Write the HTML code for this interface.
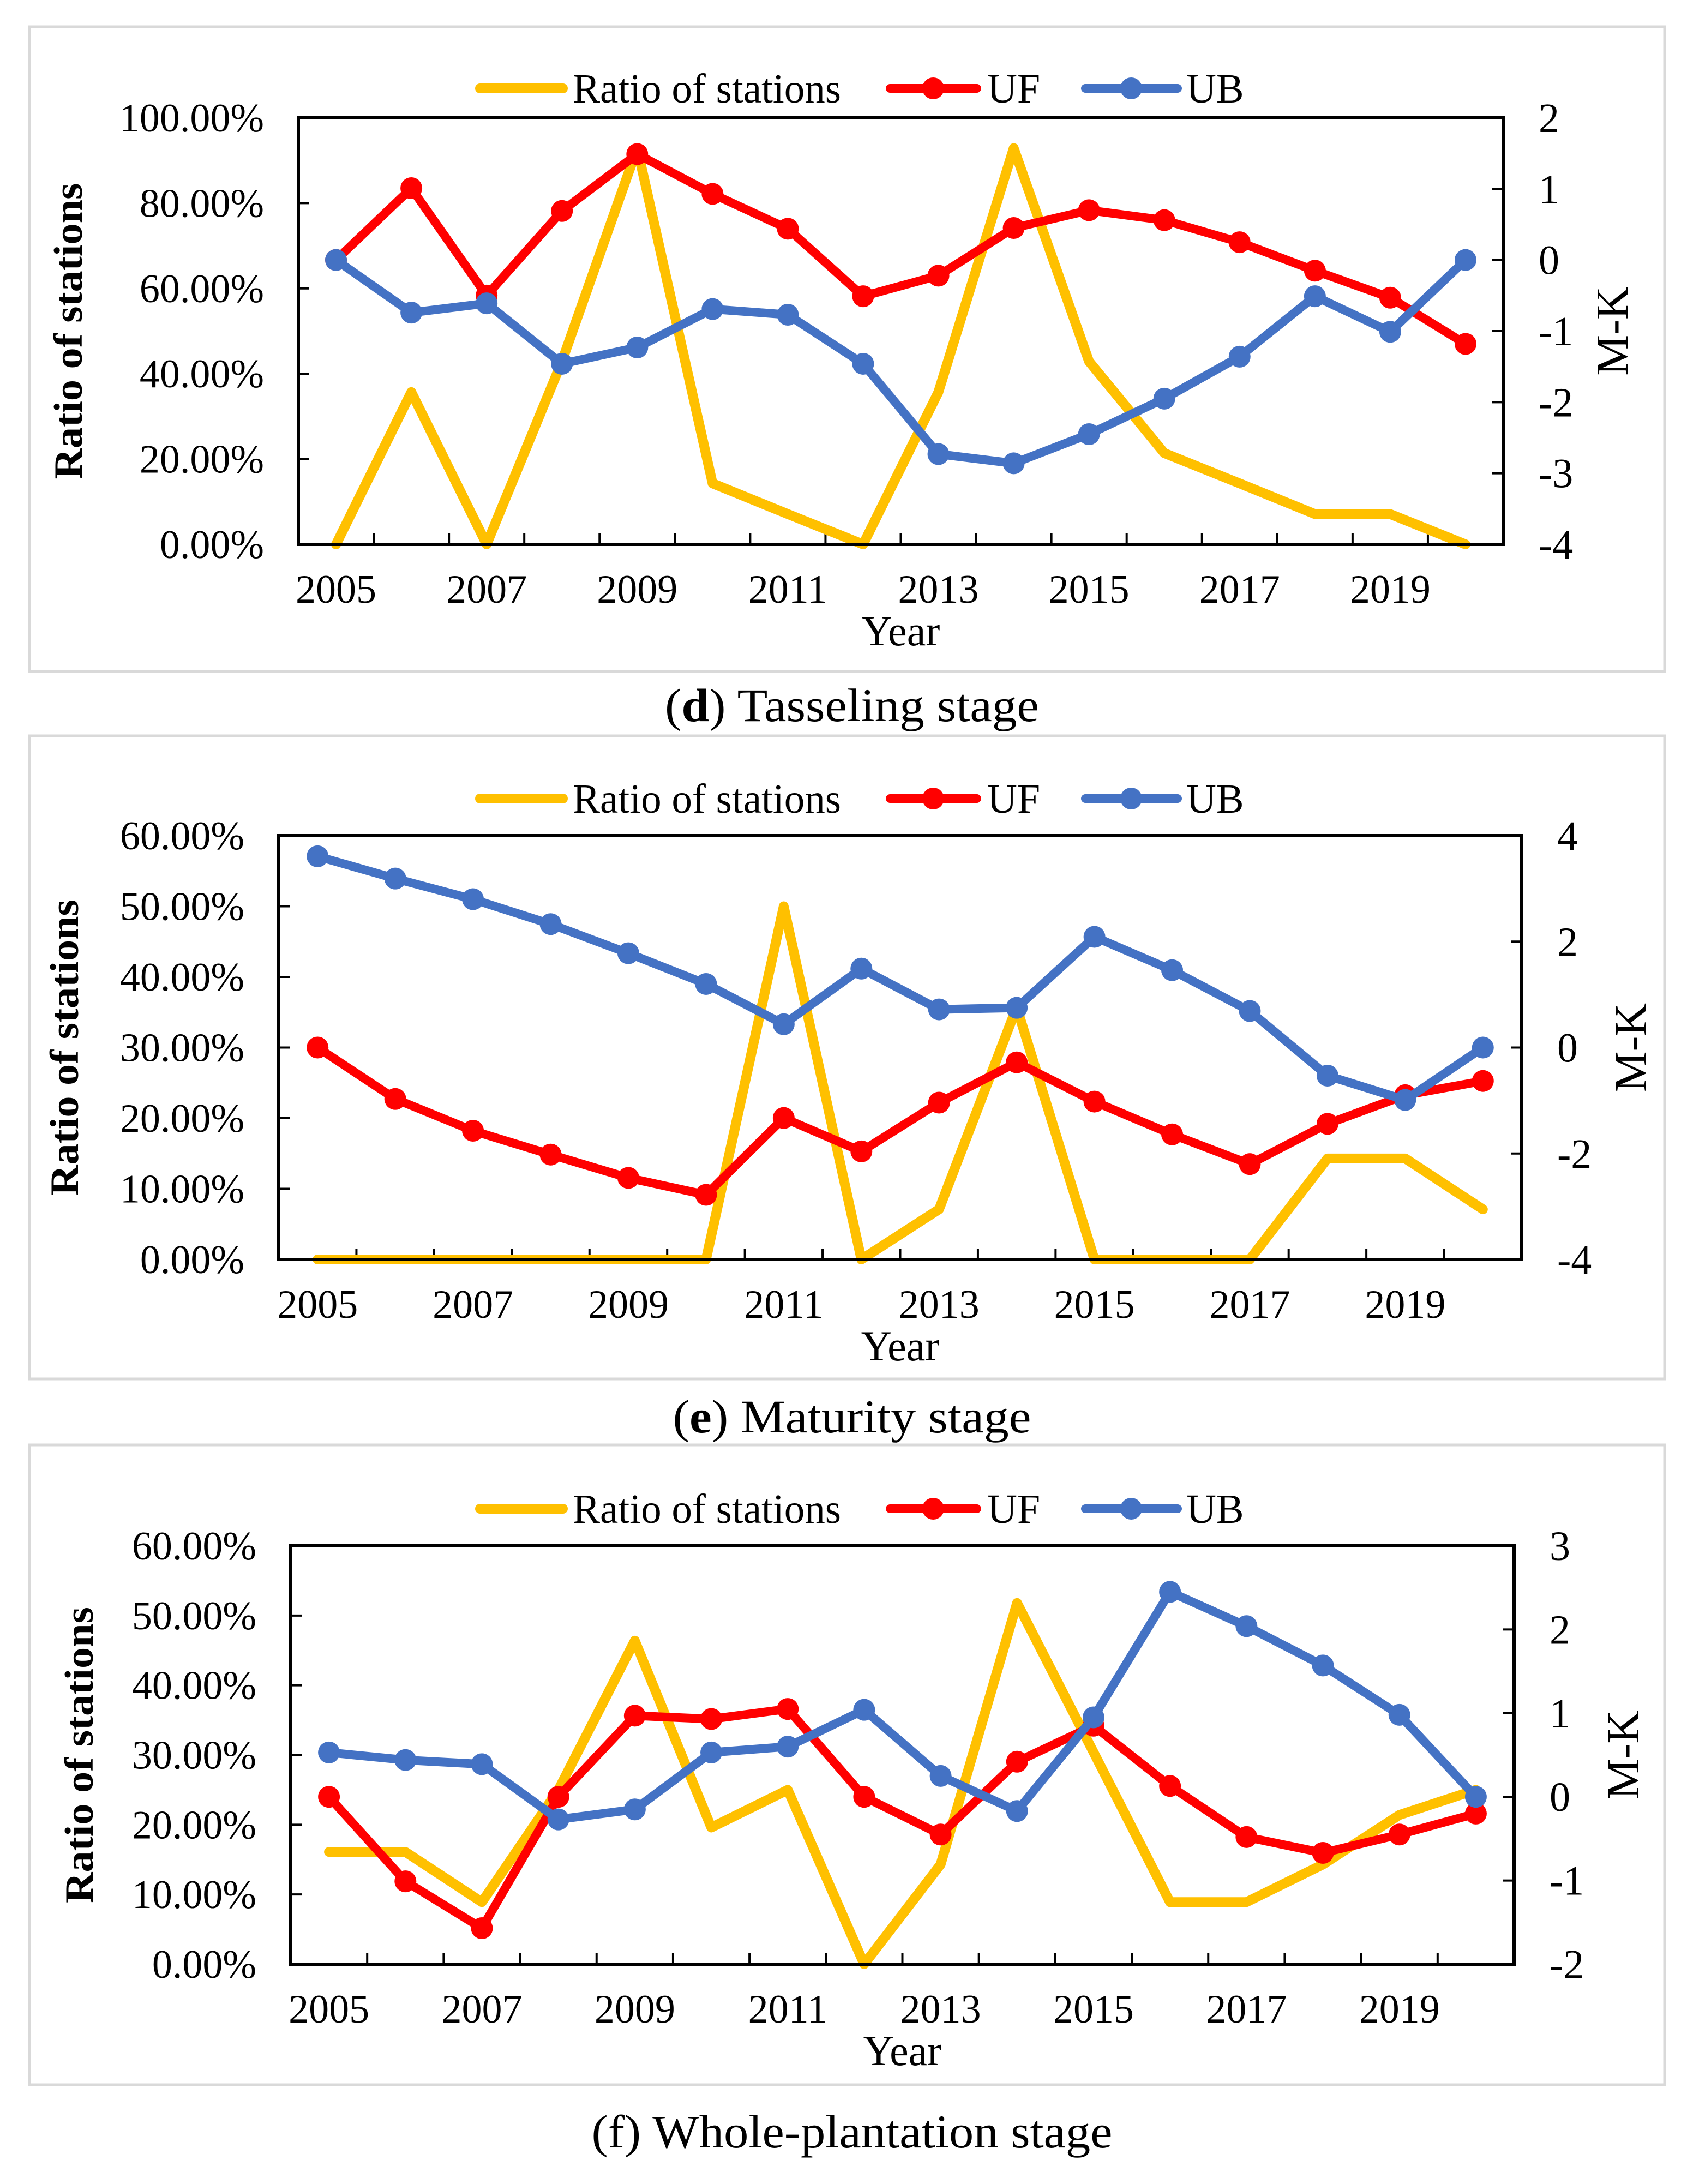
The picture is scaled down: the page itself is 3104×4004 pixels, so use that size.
<!DOCTYPE html>
<html><head><meta charset="utf-8">
<style>
html,body{margin:0;padding:0;background:#fff;}
svg{display:block;}
text{font-family:"Liberation Serif",serif;fill:#000;}
</style></head>
<body>
<svg id="fig" width="3104" height="4004" viewBox="0 0 3104 4004" xmlns="http://www.w3.org/2000/svg"></svg>
<script>
const years = [2005,2006,2007,2008,2009,2010,2011,2012,2013,2014,2015,2016,2017,2018,2019,2020];
const yearLabels = ["2005","2007","2009","2011","2013","2015","2017","2019"];

const ratioD = [0,35.7,0,42.9,92.9,14.3,7.1,0,35.7,92.9,42.9,21.4,14.3,7.1,7.1,0];
const ufD = [0,1.01,-0.5,0.69,1.49,0.93,0.44,-0.51,-0.22,0.45,0.7,0.56,0.25,-0.15,-0.53,-1.18];
const ubD = [0,-0.74,-0.61,-1.46,-1.23,-0.69,-0.77,-1.46,-2.73,-2.86,-2.45,-1.95,-1.36,-0.51,-1.01,0];
const leftTicksD = ["0.00%","20.00%","40.00%","60.00%","80.00%","100.00%"];
const rightTicksD = ["-4","-3","-2","-1","0","1","2"];

const ratioE = [0,0,0,0,0,0,50,0,7.1,35.7,0,0,0,14.3,14.3,7.1];
const ufE = [0,-0.97,-1.57,-2.02,-2.46,-2.78,-1.33,-1.96,-1.04,-0.28,-1.02,-1.64,-2.2,-1.44,-0.9,-0.63];
const ubE = [3.61,3.19,2.8,2.33,1.78,1.2,0.44,1.49,0.72,0.75,2.09,1.46,0.69,-0.53,-0.99,0];
const leftTicksE = ["0.00%","10.00%","20.00%","30.00%","40.00%","50.00%","60.00%"];
const rightTicksE = ["-4","-2","0","2","4"];

const ratioF = [16.1,16.1,8.9,25,46.4,19.6,25,0,14.3,51.8,30.4,8.9,8.9,14.3,21.4,25];
const ufF = [0,-1.01,-1.57,0,0.97,0.93,1.05,0,-0.45,0.42,0.85,0.13,-0.48,-0.67,-0.45,-0.2];
const ubF = [0.53,0.44,0.39,-0.27,-0.15,0.53,0.6,1.04,0.25,-0.17,0.95,2.45,2.04,1.57,0.98,0];
const leftTicksF = ["0.00%","10.00%","20.00%","30.00%","40.00%","50.00%","60.00%"];
const rightTicksF = ["-2","-1","0","1","2","3"];

const NS="http://www.w3.org/2000/svg";
const svg=document.getElementById('fig');
function el(tag,attrs,parent,txt){const e=document.createElementNS(NS,tag);for(const k in attrs)e.setAttribute(k,attrs[k]);if(txt!==undefined)e.textContent=txt;(parent||svg).appendChild(e);return e;}

function panel(cfg){
  const g=el('g',{});
  
  
  const fr=el('rect',{x:cfg.fx0,y:cfg.fy0,width:cfg.fx1-cfg.fx0,height:cfg.fy1-cfg.fy0,fill:'none',stroke:'#d9d9d9','stroke-width':5},g);
  
  
  const L=cfg.x0,R=cfg.x1,T=cfg.y0,B=cfg.y1;
  const n=years.length,cw=(R-L)/n;
  const xs=i=>L+cw*(i+0.5);
  const yl=v=>B-(v-cfg.lmin)/(cfg.lmax-cfg.lmin)*(B-T);
  const yr=v=>B-(v-cfg.rmin)/(cfg.rmax-cfg.rmin)*(B-T);
  // ticks
  for(let i=1;i<n;i++){const t=el('line',{x1:L+cw*i,x2:L+cw*i,y1:B,y2:B-20,stroke:'#000','stroke-width':4},g);
    }
  cfg.lt.forEach((s,i)=>{const v=cfg.lmin+i*(cfg.lmax-cfg.lmin)/(cfg.lt.length-1);const y=yl(v);
    if(i>0&&i<cfg.lt.length-1){const t=el('line',{x1:L,x2:L+20,y1:y,y2:y,stroke:'#000','stroke-width':4},g);}
    const tx=el('text',{x:L-63,y:y+25,'font-size':74,'text-anchor':'end'},g,s);
    });
  cfg.rt.forEach((s,i)=>{const v=cfg.rmin+i*(cfg.rmax-cfg.rmin)/(cfg.rt.length-1);const y=yr(v);
    if(i>0&&i<cfg.rt.length-1){const t=el('line',{x1:R,x2:R-20,y1:y,y2:y,stroke:'#000','stroke-width':4},g);}
    const tx=el('text',{x:R+65,y:y+26,'font-size':76},g,s);
    });
  yearLabels.forEach(s=>{const i=years.indexOf(+s);const tx=el('text',{x:xs(i),y:B+107,'font-size':74,'text-anchor':'middle'},g,s);
    });
  // series
  const ptsR=ratioPts=cfg.ratio.map((v,i)=>xs(i)+','+yl(v)).join(' ');
  const pr=el('polyline',{points:ptsR,fill:'none',stroke:'#ffc000','stroke-width':18,'stroke-linejoin':'round','stroke-linecap':'round'},g);
  
  [[cfg.uf,'#ff0000','uf'],[cfg.ub,'#4472c4','ub']].forEach(([arr,col,nm])=>{
    const pl=el('polyline',{points:arr.map((v,i)=>xs(i)+','+yr(v)).join(' '),fill:'none',stroke:col,'stroke-width':16,'stroke-linejoin':'round'},g);
    
    arr.forEach((v,i)=>{const c=el('circle',{cx:xs(i),cy:yr(v),r:20,fill:col},g);
      });
  });
  const ax=el('rect',{x:L,y:T,width:R-L,height:B-T,fill:'none',stroke:'#000','stroke-width':6},g);
  
  // titles
  const yt=el('text',{x:0,y:0,'font-size':74,'font-weight':'bold','text-anchor':'middle',textLength:543,lengthAdjust:'spacingAndGlyphs',transform:`translate(${cfg.ytx},${(T+B)/2}) rotate(-90)`},g,'Ratio of stations');
  
  const rt=el('text',{x:0,y:0,'font-size':84,'text-anchor':'middle',transform:`translate(${R+228},${(T+B)/2}) rotate(-90)`},g,'M-K');
  
  const xt=el('text',{x:(L+R)/2,y:B+185,'font-size':78,'text-anchor':'middle'},g,'Year');
  
  // legend
  const ly=cfg.ly;
  const lg=el('g',{},g);
  const l1=el('line',{x1:880,x2:1032,y1:ly,y2:ly,stroke:'#ffc000','stroke-width':18,'stroke-linecap':'round'},lg);
  
  const t1=el('text',{x:1050,y:ly+26,'font-size':76,textLength:492,lengthAdjust:'spacingAndGlyphs'},lg,'Ratio of stations');
  
  [[1632,1791,1711,'#ff0000','UF',1810],[1990,2159,2074,'#4472c4','UB',2175]].forEach(([a,b,c,col,lab,tx])=>{
    const l=el('line',{x1:a,x2:b,y1:ly,y2:ly,stroke:col,'stroke-width':16,'stroke-linecap':'round'},lg);
    
    const cc=el('circle',{cx:c,cy:ly,r:20,fill:col},lg);
    
    const t=el('text',{x:tx,y:ly+26,'font-size':76},lg,lab);
    
  });
  // caption
  const cap=el('text',{x:1562,y:cfg.cy,'font-size':86,'text-anchor':'middle',textLength:cfg.cw,lengthAdjust:'spacingAndGlyphs'},svg);
  
  if(cfg.bold){el('tspan',{},cap,'(');const b=el('tspan',{'font-weight':'bold'},cap,cfg.bold);el('tspan',{},cap,') '+cfg.cap);}
  else cap.textContent=cfg.cap;
}

panel({name:'panel-d-tasseling',fx0:54,fy0:49,fx1:3052,fy1:1231,x0:547,x1:2756,y0:216,y1:998,lmin:0,lmax:100,rmin:-4,rmax:2,lt:leftTicksD,rt:rightTicksD,ratio:ratioD,uf:ufD,ub:ubD,ly:162,ytx:150,cy:1322,cw:686,bold:'d',cap:'Tasseling stage'});
panel({name:'panel-e-maturity',fx0:54,fy0:1349,fx1:3052,fy1:2528,x0:511,x1:2790,y0:1532,y1:2309,lmin:0,lmax:60,rmin:-4,rmax:4,lt:leftTicksE,rt:rightTicksE,ratio:ratioE,uf:ufE,ub:ubE,ly:1464,ytx:143,cy:2626,cw:657,bold:'e',cap:'Maturity stage'});
panel({name:'panel-f-whole-plantation',fx0:54,fy0:2649,fx1:3052,fy1:3822,x0:533,x1:2776,y0:2834,y1:3601,lmin:0,lmax:60,rmin:-2,rmax:3,lt:leftTicksF,rt:rightTicksF,ratio:ratioF,uf:ufF,ub:ubF,ly:2766,ytx:170,cy:3937,cw:955,bold:null,cap:'(f) Whole-plantation stage'});
</script>
</body></html>
